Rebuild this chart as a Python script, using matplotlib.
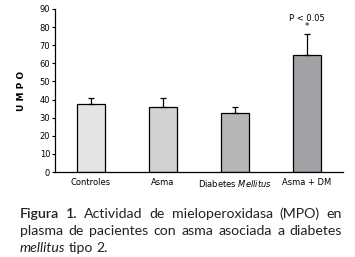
import matplotlib
matplotlib.use("Agg")
import matplotlib.pyplot as plt

groups = ["Controles", "Asma", "Diabetes $\\it{Mellitus}$", "Asma + DM"]
umpo = [37.5, 35.8, 32.5, 64.5]
err_up = [3.3, 5.2, 3.3, 11.5]
bar_colors = ["#e4e4e4", "#d2d2d4", "#b6b6b8", "#a2a2a6"]

plt.rcParams["font.family"] = "DejaVu Sans"

fig = plt.figure(figsize=(3.55, 2.57), dpi=100)
W, H = 355, 257
ax = fig.add_axes([55 / W, 1 - 172 / H, (343 - 55) / W, (172 - 9) / H])

x = range(len(groups))
ax.bar(x, umpo, width=0.4, color=bar_colors, edgecolor="black", linewidth=0.9)
ax.errorbar(x, umpo, yerr=[[0] * len(umpo), err_up], fmt="none",
            ecolor="black", elinewidth=0.9, capsize=2.2, capthick=0.9)

ax.set_xlim(-0.5, 3.5)
ax.set_ylim(0, 90)
ax.set_yticks(range(0, 91, 10))
ax.set_xticks(list(x))
ax.set_xticklabels(groups, fontsize=6)
ax.tick_params(axis="x", length=0, pad=4)
ax.tick_params(axis="y", labelsize=6, length=2.5, width=0.8, pad=1)
for s in ["top", "right"]:
    ax.spines[s].set_visible(False)
for s in ["left", "bottom"]:
    ax.spines[s].set_linewidth(0.9)

ax.set_ylabel("U M P O", fontsize=6.5, fontweight="bold", labelpad=10)

ax.text(3, 85, "P < 0.05", ha="center", va="center", fontsize=6)
ax.text(3, 83, "*", ha="center", va="top", fontsize=6)

# caption, justified on first two lines
fig.canvas.draw()
r = fig.canvas.get_renderer()
left, right = 20 / W, 342 / W
lines = [
    [("Figura", "bold"), ("1.", "bold"), ("Actividad", None), ("de", None), ("mieloperoxidasa", None), ("(MPO)", None), ("en", None)],
    [("plasma", None), ("de", None), ("pacientes", None), ("con", None), ("asma", None), ("asociada", None), ("a", None), ("diabetes", None)],
    [("mellitus", "italic"), ("tipo", None), ("2.", None)],
]
ys = [1 - 218 / H, 1 - 235 / H, 1 - 252 / H]
cfs = 10.2
for i, (words, y) in enumerate(zip(lines, ys)):
    txts = []
    for w, st in words:
        kw = {}
        if st == "bold":
            kw["fontweight"] = "semibold"
        if st == "italic":
            kw["fontstyle"] = "italic"
        t = fig.text(0, y, w, fontsize=cfs, va="baseline", ha="left",
                     color="#222222", family="Lato", **kw)
        txts.append(t)
    widths = [t.get_window_extent(r).width / W for t in txts]
    if i < 2:
        gap = (right - left - sum(widths)) / (len(words) - 1)
    else:
        gap = 3.2 / W
    pos = left
    for t, wd in zip(txts, widths):
        t.set_x(pos)
        pos += wd + gap

fig.savefig("out.png", dpi=100)
